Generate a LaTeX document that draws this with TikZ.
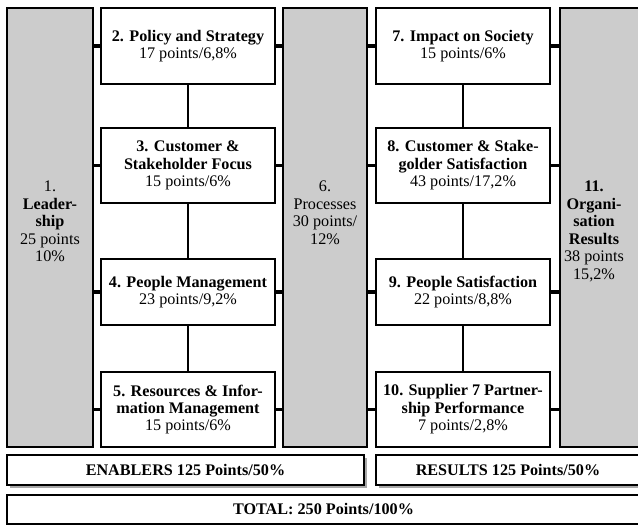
\documentclass[tikz,border=0pt]{standalone}
\usepackage{fontspec}
\setmainfont{Liberation Serif}
\usepackage{xcolor}
\usepackage{tikz}
\usetikzlibrary{positioning,shadows}
\definecolor{efqGray}{HTML}{CCCCCC}
\definecolor{efqShade}{HTML}{A8A8A8}
\tikzset{
  efqcol/.style={rectangle,draw=black,fill=efqGray,line width=1.2pt,
                 minimum width=2.1cm,inner sep=0pt},
  efqcrit/.style={rectangle,draw=black,fill=white,line width=1.2pt,
                  minimum width=4.35cm,inner sep=0pt,align=center},
  efqtext/.style={align=center,anchor=north,inner sep=0pt},
  efqbar/.style={rectangle,draw=black,fill=white,line width=1.2pt,
                 minimum height=0.75cm,inner sep=0pt,font=\bfseries},
  efqshadow/.style={drop shadow={shadow xshift=0.075cm,shadow yshift=-0.075cm,
                    fill=efqShade,opacity=1}},
  efqlink/.style={line width=2.5pt},
  efqline/.style={line width=0.8pt}
}

\begin{document}
\fontsize{11.5}{12.4}\selectfont
\begin{tikzpicture}[x=1cm,y=1cm]
    \useasboundingbox (0,0) rectangle (15.95,13.125);

    % columns
    \node[efqcol,minimum width=2.15cm,minimum height=10.975cm] (col1)
      at (1.25,7.4375) {};
    \node[efqcol,minimum height=10.975cm] (col6) at (8.125,7.4375) {};
    \node[efqcol,minimum height=10.975cm] (col11) at (15.05,7.4375) {};
    \node[efqtext] (t1) at (col1.center |- 0,8.6) 
      {1.\\\textbf{Leader-}\\\textbf{ship}\\25 points\\10\%};
    \node[efqtext] (t6) at (col6.center |- 0,8.6)
      {6.\\Processes\\30 points/\\12\%};
    \node[efqtext] (t11) at (14.85,8.6)
      {\textbf{11.}\\\textbf{Organi-}\\\textbf{sation}\\\textbf{Results}\\38 points\\15,2\%};

    % enablers
    \node[efqcrit,minimum height=1.9cm] (c2) at (4.7,11.975)
      {\textbf{2. Policy and Strategy}\\17 points/6,8\%};
    \node[efqcrit,minimum height=1.875cm] (c3) at (4.7,8.9875)
      {\textbf{3. Customer \&}\\\textbf{Stakeholder Focus}\\15 points/6\%};
    \node[efqcrit,minimum height=1.65cm] (c4) at (4.7,5.825)
      {\textbf{4. People Management}\\23 points/9,2\%};
    \node[efqcrit,minimum height=1.875cm] (c5) at (4.7,2.8875)
      {\textbf{5. Resources \& Infor-}\\\textbf{mation Management}\\15 points/6\%};

    % results
    \node[efqcrit,minimum height=1.9cm] (c7) at (11.575,11.975)
      {\textbf{7. Impact on Society}\\15 points/6\%};
    \node[efqcrit,minimum height=1.875cm] (c8) at (11.575,8.9875)
      {\textbf{8. Customer \& Stake-}\\\textbf{golder Satisfaction}\\43 points/17,2\%};
    \node[efqcrit,minimum height=1.65cm] (c9) at (11.575,5.825)
      {\textbf{9. People Satisfaction}\\22 points/8,8\%};
    \node[efqcrit,minimum height=1.875cm] (c10) at (11.575,2.8875)
      {\textbf{10. Supplier 7 Partner-}\\\textbf{ship Performance}\\7 points/2,8\%};

    \foreach \a/\b in {c2/c3,c3/c4,c4/c5,c7/c8,c8/c9,c9/c10}
      \draw[efqline] (\a.south) -- (\b.north);
    \foreach \c in {c2,c3,c4,c5}{
      \draw[efqlink] (\c.west) -- (\c.west -| col1.east);
      \draw[efqlink] (\c.east) -- (\c.east -| col6.west);
    }
    \foreach \c in {c7,c8,c9,c10}{
      \draw[efqlink] (\c.west) -- (\c.west -| col6.east);
      \draw[efqlink] (\c.east) -- (\c.east -| col11.west);
    }

    % totals
    \node[efqbar,efqshadow,minimum width=8.925cm] (enablers) at (4.6375,1.375)
      {ENABLERS 125 Points/50\%};
    \node[efqbar,efqshadow,minimum width=6.6cm] (results) at (12.7,1.375)
      {RESULTS 125 Points/50\%};
    \node[efqbar,minimum width=15.825cm,minimum height=0.725cm] (total)
      at (8.0875,0.3875) {TOTAL: 250 Points/100\%};
  \end{tikzpicture}
\end{document}
